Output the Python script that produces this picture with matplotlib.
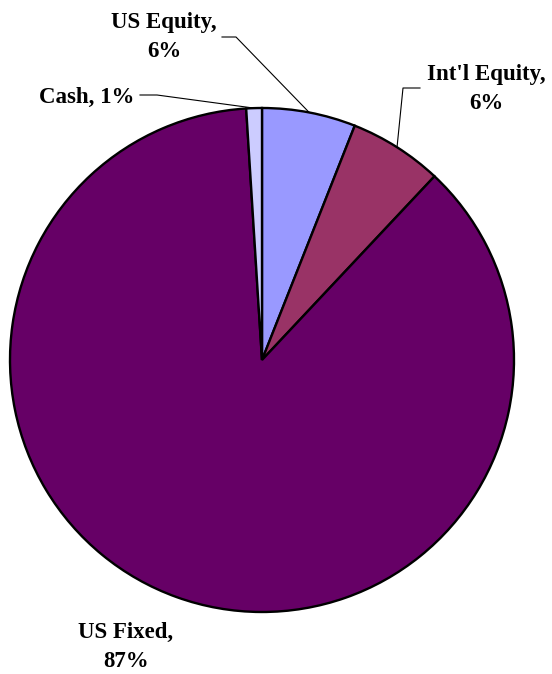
import numpy as np
import matplotlib
matplotlib.use("Agg")
import matplotlib.pyplot as plt

# allocation data (percent)
labels = ["US Equity", "Int'l Equity", "US Fixed", "Cash"]
values = [6, 6, 87, 1]
colors = ["#9999FF", "#993366", "#660066", "#CCCCFF"]

plt.rcParams["font.family"] = ["Liberation Serif", "DejaVu Serif"]

fig = plt.figure(figsize=(5.52, 6.74), dpi=100)
W, H = 552, 674
cx, cy, r = 262, 360, 252
ax = fig.add_axes([(cx - r) / W, (H - cy - r) / H, 2 * r / W, 2 * r / H])

wedges, _ = ax.pie(values, colors=colors, startangle=90, counterclock=False,
                   radius=1.0,
                   wedgeprops=dict(edgecolor="black", linewidth=1.7))
ax.set_xlim(-1, 1)
ax.set_ylim(-1, 1)
ax.set_aspect("equal")
ax.axis("off")

def px(x, y):
    # pixel position -> data coords of the pie axes
    return (x - cx) / r, (cy - y) / r

def edge(w):
    ang = np.deg2rad((w.theta1 + w.theta2) / 2)
    return np.cos(ang), np.sin(ang)

font = dict(fontsize=16.5, fontweight="bold", color="black")

# text positions, elbow and end points of leader lines (pixels)
label_pos = {
    "US Equity": ((164, 37), "center", [(222, 37), (236, 37)]),
    "Int'l Equity": ((486, 89), "center", [(420, 88), (403, 88)]),
    "Cash": ((134, 97), "right", [(140, 95), (157, 95)]),
    "US Fixed": ((126, 647), "center", None),
}

for w, lab, v in zip(wedges, labels, values):
    (tx, ty), ha, pts = label_pos[lab]
    x, y = px(tx, ty)
    if lab == "Cash":
        txt = f"{lab}, {v}%"
    else:
        txt = f"{lab},\n{v}%"
    ax.text(x, y, txt, ha=ha, va="center", linespacing=1.55,
            clip_on=False, **font)
    if pts:
        xs = [px(*p)[0] for p in pts]
        ys = [px(*p)[1] for p in pts]
        ex, ey = edge(w)
        xs.append(ex)
        ys.append(ey)
        ax.plot(xs, ys, color="black", lw=0.8, clip_on=False)

fig.savefig("out.png", dpi=100)
